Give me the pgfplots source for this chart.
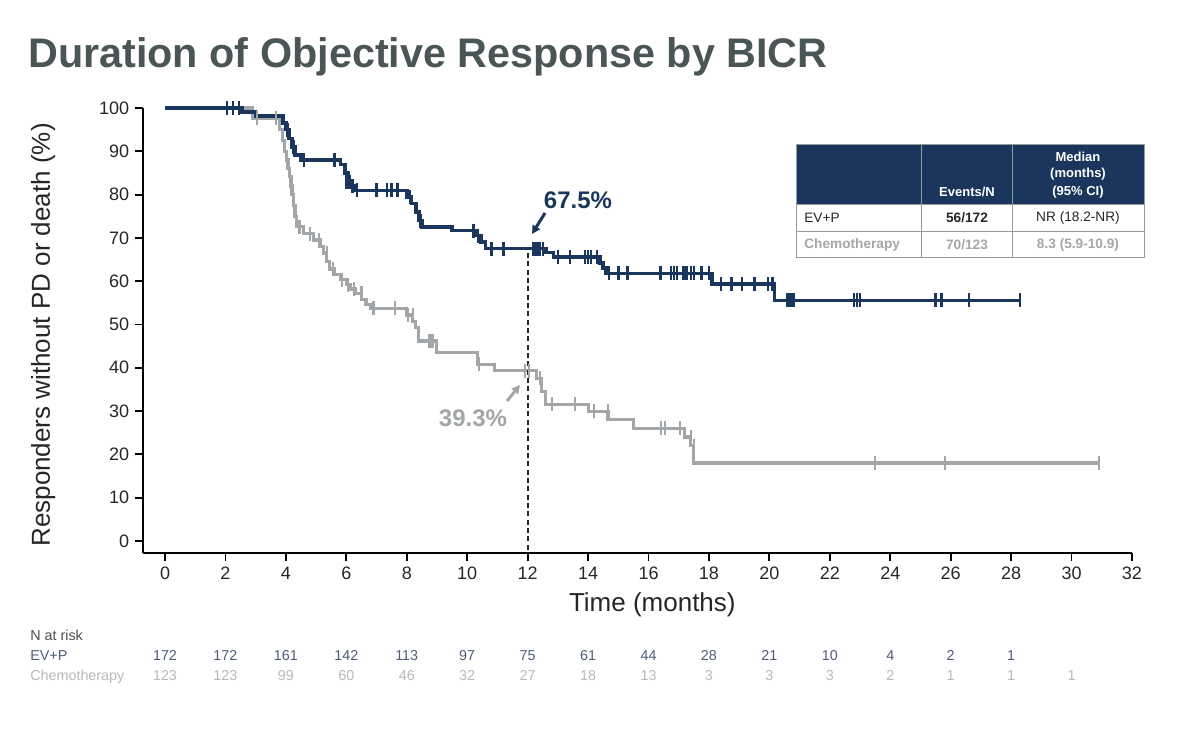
\documentclass[border=0pt]{standalone}
\usepackage{pgfplots}
\pgfplotsset{compat=1.18}
\usepackage{fontspec}
\setmainfont{Liberation Sans}
\usetikzlibrary{arrows.meta}
\definecolor{navy}{HTML}{1B365D}
\definecolor{chemo}{HTML}{A3A6A8}
\definecolor{titlec}{HTML}{4A5556}
\definecolor{riskA}{HTML}{4E5B78}
\definecolor{riskB}{HTML}{B8B8B8}
\begin{document}
\begin{tikzpicture}[x=0.6pt,y=-0.6pt]
\useasboundingbox (0,0) rectangle (1200,732);
\node[anchor=base west, font=\fontsize{24.8}{28}\selectfont\bfseries, text=titlec, inner sep=0] at (28,68) {Duration of Objective Response by BICR};
\begin{scope}[x=1pt,y=1pt]
\begin{axis}[at={(85.8pt,-331.8pt)}, anchor=south west, scale only axis,
  width=593.4pt, height=267pt,
  xmin=-0.73, xmax=32, ymin=-2.77, ymax=100,
  axis x line*=bottom, axis y line*=left,
  axis line style={black, line width=1.2pt},
  xtick={0,2,...,32}, ytick={0,10,...,100},
  tick align=outside, major tick length=4.8pt,
  tick style={black, line width=1.1pt},
  ticklabel style={font=\fontsize{10.8}{12}\selectfont, text=black!85},
  /pgf/number format/assume math mode=true,
  xlabel={Time (months)}, ylabel={Responders without PD or death (\%)},
  xlabel style={at={(axis description cs:0.515,0)}, anchor=center, yshift=-31pt, font=\fontsize{15.6}{18}\selectfont, text=black!85},
  ylabel style={at={(axis description cs:-0.101,0.49)}, anchor=center, font=\fontsize{15.6}{18}\selectfont, text=black!85},
  clip=false]
\addplot[const plot, chemo, line width=1.9pt] coordinates {
(0,100) (2.9,97.6) (3.8,95) (3.9,92.5) (3.95,90) (4.02,88) (4.07,86) (4.13,84.1) (4.17,82) (4.2,80) (4.24,77.5) (4.3,75) (4.35,72.6) (4.57,71) (4.9,69.5) (5.13,68) (5.25,66.5) (5.35,64.5) (5.45,62.8) (5.6,61.5) (5.8,60.3) (6.0,59.2) (6.15,58.2) (6.3,57.2) (6.5,55.8) (6.65,54.7) (6.8,53.7) (8.0,52.2) (8.2,50.6) (8.3,49.3) (8.38,46.2) (8.97,43.6) (10.35,40.8) (10.9,39.3) (12.3,37.6) (12.45,34.5) (12.6,31.6) (14.0,30.0) (14.66,28.0) (15.5,26.0) (17.2,24.0) (17.4,22.0) (17.5,18.0) (30.9,18.0)};
\addplot[only marks, mark=|, mark size=4.2pt, chemo, mark options={line width=1.3pt}] coordinates {
(3.05,97.6) (3.67,97.6) (4.13,84.1) (4.45,72.6) (4.8,71) (5.1,69.5) (5.35,66.5) (5.55,62.8) (5.85,60.3) (6.05,59.2) (6.25,58.2) (6.5,57.2) (6.9,53.7) (7.6,53.7) (8.05,52.2) (8.2,52.2) (8.75,46.2) (8.85,46.2) (10.4,40.8) (11.9,39.3) (12.05,39.3) (12.4,37.6) (12.8,31.6) (13.57,31.6) (14.2,30) (14.66,30) (16.4,26) (16.55,26) (17.05,26) (17.4,24) (17.5,22) (23.5,18) (25.8,18) (30.9,18)};
\addplot[const plot, navy, line width=2.1pt] coordinates {
(0,100) (2.55,99.1) (3.0,98.2) (3.9,96.5) (4.0,95.0) (4.1,93.0) (4.2,91.0) (4.3,89.2) (4.5,88.0) (5.8,87.0) (5.95,85.0) (6.05,83.0) (6.15,82.0) (6.3,81.0) (8.0,79.5) (8.15,78.0) (8.3,76.0) (8.4,74.0) (8.5,72.5) (9.5,71.7) (10.3,70.5) (10.45,69.0) (10.6,67.5) (12.6,66.6) (12.85,65.6) (14.4,64.2) (14.5,63.0) (14.6,61.8) (18.1,59.3) (20.17,55.6) (28.3,55.6)};
\addplot[only marks, mark=|, mark size=4.2pt, navy, mark options={line width=1.5pt}] coordinates {
(2.05,100) (2.25,100) (2.45,100) (4.05,95) (4.25,91) (4.6,88) (5.6,88) (6.0,83) (6.1,83) (6.2,82) (6.35,81) (7.0,81) (7.35,81) (7.5,81) (7.7,81) (8.1,79.5) (8.45,74) (10.2,71.7) (10.35,70.5) (10.8,67.5) (11.2,67.5) (12.2,67.5) (12.3,67.5) (12.4,67.5) (12.5,67.5) (13.0,65.6) (13.4,65.6) (13.9,65.6) (14.0,65.6) (14.1,65.6) (14.3,65.6) (14.7,61.8) (15.0,61.8) (15.3,61.8) (16.4,61.8) (16.75,61.8) (16.85,61.8) (16.95,61.8) (17.15,61.8) (17.25,61.8) (17.4,61.8) (17.5,61.8) (17.75,61.8) (18.0,61.8) (18.4,59.3) (18.75,59.3) (19.1,59.3) (19.5,59.3) (19.95,59.3) (20.1,59.3) (20.6,55.6) (20.7,55.6) (20.8,55.6) (22.8,55.6) (22.9,55.6) (23.0,55.6) (25.5,55.6) (25.7,55.6) (26.6,55.6) (28.3,55.6)};
\draw[black!85, line width=1.1pt, dash pattern=on 3pt off 2pt] (axis cs:12,66.5) -- (axis cs:12,-2.77);
\end{axis}
\end{scope}
% annotations
\node[font=\fontsize{14.4}{16}\selectfont\bfseries, text=navy] at (578,200) {67.5\%};
\draw[navy, line width=1.8pt, -{Triangle[length=5pt,width=5pt]}] (545,213) -- (532,234);
\node[font=\fontsize{14.4}{16}\selectfont\bfseries, text=chemo] at (473,418) {39.3\%};
\draw[chemo, line width=1.8pt, -{Triangle[length=5pt,width=5pt]}] (507,401) -- (520,385);
% info table
\fill[navy] (796,145) rectangle (1144,205);
\draw[black!40, line width=0.6pt] (796,145) rectangle (1144,258);
\draw[black!40, line width=0.6pt] (796,205) -- (1144,205) (796,232) -- (1144,232);
\draw[black!40, line width=0.6pt] (921,145) -- (921,258) (1012,145) -- (1012,258);
\begin{scope}[every node/.style={font=\fontsize{7.8}{9}\selectfont\bfseries, text=white, inner sep=0}]
\node at (967,192) {Events/N};
\node at (1078,157) {Median};
\node at (1078,174) {(months)};
\node at (1078,192) {(95\% CI)};
\end{scope}
\begin{scope}[every node/.style={font=\fontsize{8.2}{9}\selectfont, inner sep=0}]
\node[anchor=west, text=black!85] at (804,218) {EV+P};
\node[text=black!85, font=\fontsize{8.2}{9}\selectfont\bfseries] at (967,218) {56/172};
\node[text=black!85] at (1078,218) {NR (18.2-NR)};
\node[anchor=west, text=black!35, font=\fontsize{8.2}{9}\selectfont\bfseries] at (804,245) {Chemotherapy};
\node[text=black!35, font=\fontsize{8.2}{9}\selectfont\bfseries] at (967,245) {70/123};
\node[text=black!35, font=\fontsize{8.2}{9}\selectfont\bfseries] at (1078,245) {8.3 (5.9-10.9)};
\end{scope}
% number at risk
\begin{scope}[every node/.style={font=\fontsize{8.6}{10}\selectfont, inner sep=0, anchor=base}]
\node[anchor=base west, text=black!70] at (30,641) {N at risk};
\node[anchor=base west, text=riskA] at (30,660) {EV+P};
\node[anchor=base west, text=riskB] at (30,681) {Chemotherapy};
\foreach \v [count=\i from 0] in {172,172,161,142,113,97,75,61,44,28,21,10,4,2,1}
  \node[text=riskA] at (165+60.44*\i,660) {\v};
\foreach \v [count=\i from 0] in {123,123,99,60,46,32,27,18,13,3,3,3,2,1,1,1}
  \node[text=riskB] at (165+60.44*\i,681) {\v};
\end{scope}
\end{tikzpicture}
\end{document}
